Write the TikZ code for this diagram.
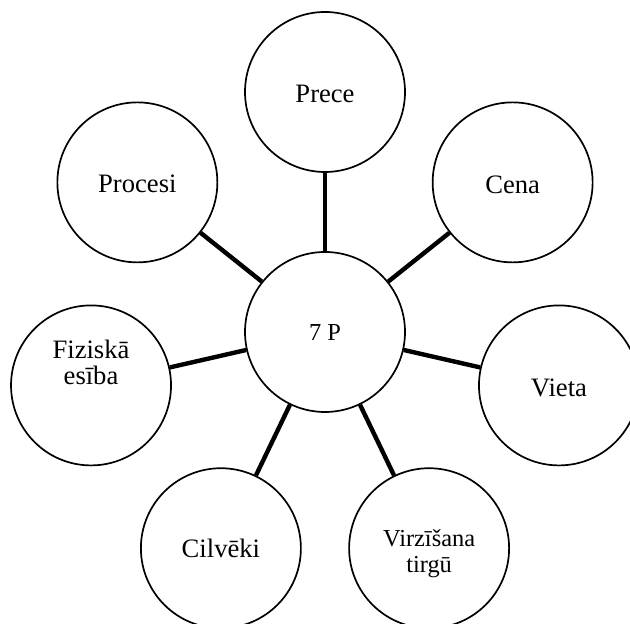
\documentclass[tikz,border=0pt]{standalone}
\usepackage{fontspec}
\setmainfont{Liberation Serif}
\usetikzlibrary{positioning}

\begin{document}
\begin{tikzpicture}[
  disc/.style={circle, draw, line width=0.85pt, minimum size=80pt, inner sep=0pt},
  txt/.style={font=\fontsize{13.3}{13}\selectfont, align=center, anchor=base},
  smalltxt/.style={txt, font=\fontsize{12.2}{13}\selectfont},
  spoke/.style={line width=2.2pt}
]
\useasboundingbox (-162.5pt,-146pt) rectangle (152.5pt,166pt);

% centre
\node[disc, label={[smalltxt, yshift=-0.5pt]center:7 P}] (mix) at (0,0) {};

% the seven P's round it
\node[disc, label={[txt, yshift=-1pt]center:Prece}] (prece) at (90:120pt) {};
\node[disc, label={[txt, yshift=-1pt]center:Cena}] (cena) at (38.57:120pt) {};
\node[disc, label={[txt, yshift=-1pt]center:Vieta}] (vieta) at (-12.86:120pt) {};
\node[disc, label={[smalltxt, yshift=-2.5pt]center:{Virzīšana\\tirgū}}] (virz) at (-64.29:120pt) {};
\node[disc, label={[txt, yshift=0pt]center:Cilvēki}] (cilv) at (-115.71:120pt) {};
\node[disc, label={[txt, yshift=11.5pt]center:{Fiziskā\\esība}}] (fiz) at (192.86:120pt) {};
\node[disc, label={[txt, yshift=-0.5pt]center:Procesi}] (proc) at (141.43:120pt) {};

% spokes
\foreach \p in {prece, cena, vieta, virz, cilv, fiz, proc}
  \draw[spoke] (mix) -- (\p);

\end{tikzpicture}
\end{document}
